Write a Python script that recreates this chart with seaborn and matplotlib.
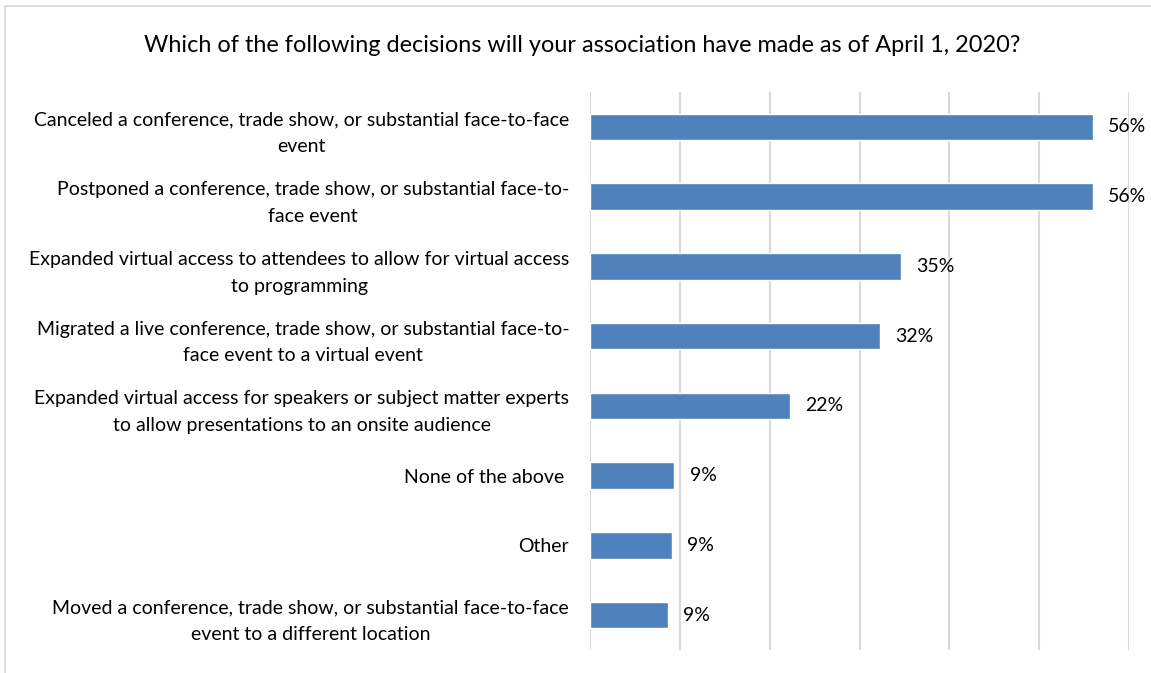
import matplotlib
matplotlib.use("Agg")
import matplotlib.pyplot as plt
import seaborn as sns
import pandas as pd
from matplotlib.patches import Rectangle

# values, percent of respondents
decisions = [
    "Canceled a conference, trade show, or substantial face-to-face\nevent",
    "Postponed a conference, trade show, or substantial face-to-\nface event",
    "Expanded virtual access to attendees to allow for virtual access\nto programming",
    "Migrated a live conference, trade show, or substantial face-to-\nface event to a virtual event",
    "Expanded virtual access for speakers or subject matter experts\nto allow presentations to an onsite audience",
    "None of the above ",
    "Other",
    "Moved a conference, trade show, or substantial face-to-face\nevent to a different location",
]
shares = [56.0, 56.0, 34.6, 32.3, 22.3, 9.4, 9.1, 8.7]
share_labels = ["56%", "56%", "35%", "32%", "22%", "9%", "9%", "9%"]

df = pd.DataFrame({"decision": decisions, "share": shares})

sns.set_theme(style="white")
plt.rcParams["font.family"] = ["Lato", "DejaVu Sans"]

fig = plt.figure(figsize=(11.51, 6.73), dpi=100)
ax = fig.add_axes([590 / 1151, 23 / 673, 539 / 1151, 558 / 673])

sns.barplot(data=df, x="share", y="decision", orient="h", color="#4f81bd",
            width=0.38, saturation=1, ax=ax, zorder=3)

ax.set_xlim(0, 60)
ax.set_xticks(range(0, 61, 10))
ax.set_xticklabels([])
ax.grid(axis="x", color="#d9d9d9", linewidth=1.5, zorder=0)
ax.tick_params(axis="both", length=0)
ax.tick_params(axis="y", pad=15)
for lbl in ax.get_yticklabels():
    lbl.set_fontsize(14)
    lbl.set_multialignment("center")
    lbl.set_linespacing(1.7)
    lbl.set_color("#000000")
ax.set_xlabel("")
ax.set_ylabel("")
for s in ax.spines.values():
    s.set_visible(False)

for bar, txt in zip(ax.patches, share_labels):
    ax.annotate(txt, (bar.get_width(), bar.get_y() + bar.get_height() / 2),
                xytext=(11, 0), textcoords="offset points",
                va="center", ha="left", fontsize=14, color="#000000")

fig.text(0.506, 1 - 45 / 673, "Which of the following decisions will your association have made as of April 1, 2020?",
         ha="center", va="center", fontsize=16.9, color="#000000")

# outer chart frame (only top and left edges fall inside the crop)
fig.patches.append(Rectangle((5 / 1151, -0.1), 1.2, 1 - 6 / 673 + 0.1,
                             transform=fig.transFigure, fill=False,
                             edgecolor="#d9d9d9", linewidth=1.2))

fig.savefig("out.png", dpi=100)
